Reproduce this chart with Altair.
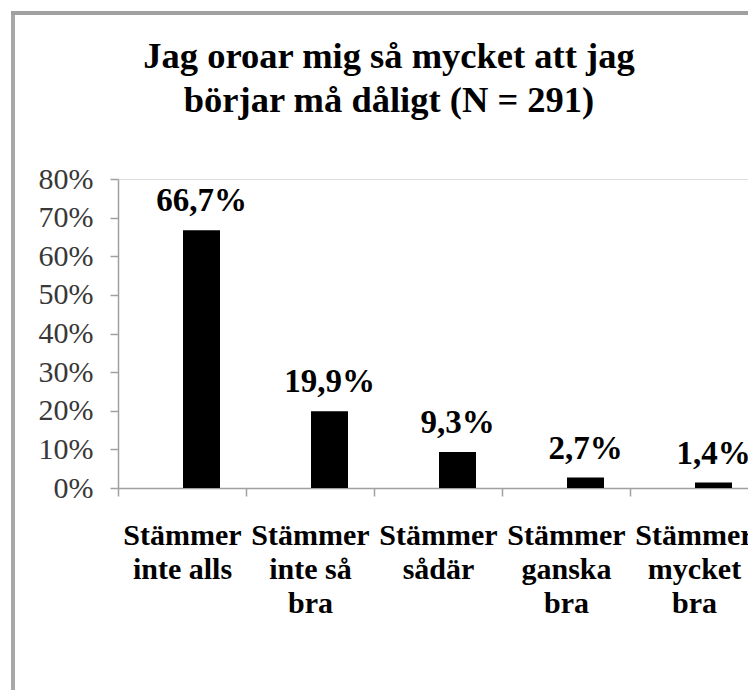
import altair as alt
import pandas as pd

categories = ["Stämmer\ninte alls", "Stämmer\ninte så\nbra", "Stämmer\nsådär",
              "Stämmer\nganska\nbra", "Stämmer\nmycket\nbra"]
values = [66.7, 19.9, 9.3, 2.7, 1.4]
y_ticks = [0, 10, 20, 30, 40, 50, 60, 70, 80]
title_lines = ["Jag oroar mig så mycket att jag", "börjar må dåligt (N = 291)"]

df = pd.DataFrame({"cat": categories, "val": values})

FONT = "Liberation Serif"

x_enc = alt.X("cat:N", sort=categories, title=None,
              scale=alt.Scale(range=[0, 640], paddingInner=0, paddingOuter=0),
              axis=alt.Axis(labelAngle=0, labelExpr="split(datum.label, '\\n')",
                            labelFont=FONT, labelFontSize=30, labelFontWeight="bold",
                            labelColor="black", labelLineHeight=34, labelPadding=24,
                            labelBaseline="top", labelLimit=0, labelOverlap=False,
                            tickBand="extent", tickSize=8, tickColor="#a0a0a0",
                            tickWidth=1.5, domainColor="#a0a0a0", domainWidth=1.5))
y_enc = alt.Y("val:Q", title=None,
              scale=alt.Scale(domain=[0, 80], nice=False, zero=True),
              axis=alt.Axis(values=y_ticks, tickCount=9, labelExpr="datum.value + '%'", grid=False,
                            labelFont=FONT, labelFontSize=30, labelColor="#383838",
                            labelOverlap=False, labelFlush=False,
                            labelPadding=17, tickSize=8, tickColor="#a0a0a0",
                            tickWidth=1.5, domainColor="#a0a0a0", domainWidth=1.5))

bars = alt.Chart(df).mark_bar(color="black", size=37, xOffset=19.5).encode(x=x_enc, y=y_enc)

labels = alt.Chart(df).transform_calculate(
    lab="replace(format(datum.val, '.1f'), '.', ',') + '%'"
).mark_text(font=FONT, fontSize=33, fontWeight="bold", color="black",
            baseline="alphabetic", dy=-19, xOffset=19.5).encode(
    x=x_enc, y=y_enc, text="lab:N")

title = alt.Chart(df).transform_filter("datum.val == " + str(values[0])).mark_text(
    font=FONT, fontSize=36.5, fontWeight="bold", color="black", align="center",
    baseline="top", lineHeight=44, text=title_lines
).encode(x=alt.value(271), y=alt.value(-140))

frame_left = alt.Chart(df).mark_rule(color="#a8a8a8", strokeWidth=3.5).encode(
    x=alt.value(-105), y=alt.value(-166), y2=alt.value(520))
frame_top = alt.Chart(df).mark_rule(color="#a0a0a0", strokeWidth=3.5).encode(
    x=alt.value(-106.75), x2=alt.value(640), y=alt.value(-166))

chart = alt.layer(frame_left, frame_top, title, bars, labels).properties(
    width=630, height=309,
    autosize=alt.AutoSizeParams(type="none"),
    padding={"left": 110, "top": 171, "right": 0, "bottom": 202},
).configure_view(stroke=None).configure(background="white")

chart.save("out.html", embed_options={"renderer": "svg", "actions": False})
